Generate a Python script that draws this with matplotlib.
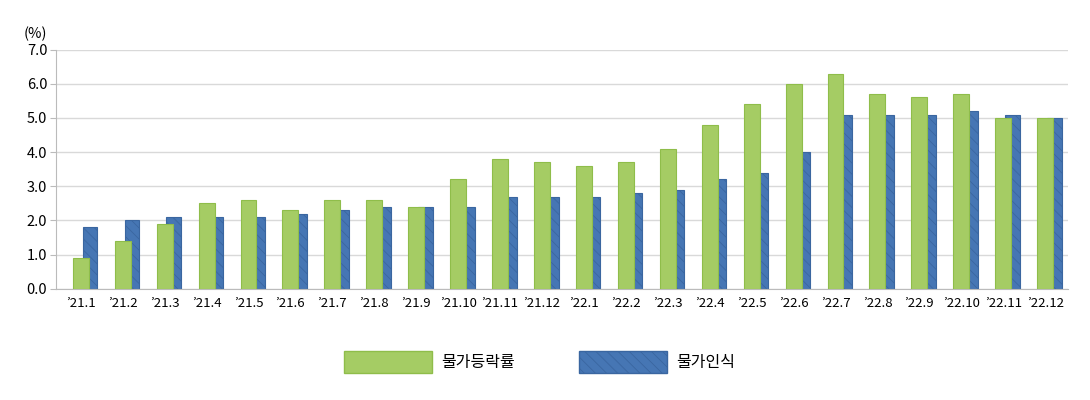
import matplotlib
matplotlib.use("Agg")
import matplotlib.pyplot as plt
import numpy as np
from matplotlib.patches import Patch

plt.rcParams['font.family'] = ['Noto Sans CJK KR']
plt.rcParams['hatch.color'] = '#2f5a8f'
plt.rcParams['hatch.linewidth'] = 0.6

labels = ["’21.1","’21.2","’21.3","’21.4","’21.5","’21.6","’21.7","’21.8","’21.9","’21.10","’21.11","’21.12",
          "’22.1","’22.2","’22.3","’22.4","’22.5","’22.6","’22.7","’22.8","’22.9","’22.10","’22.11","’22.12"]
inflation = [0.9,1.4,1.9,2.5,2.6,2.3,2.6,2.6,2.4,3.2,3.8,3.7,3.6,3.7,4.1,4.8,5.4,6.0,6.3,5.7,5.6,5.7,5.0,5.0]
perceived = [1.8,2.0,2.1,2.1,2.1,2.2,2.3,2.4,2.4,2.4,2.7,2.7,2.7,2.8,2.9,3.2,3.4,4.0,5.1,5.1,5.1,5.2,5.1,5.0]

fig = plt.figure(figsize=(10.9,4.0), dpi=100)
ax = fig.add_axes([0.051, 0.278, 0.929, 0.598])
x = np.arange(len(labels))
gw, bw = 0.38, 0.35
ax.bar(x, inflation, gw, color='#a5cc64', edgecolor='#8fbd4a', linewidth=0.8, zorder=3)
ax.bar(x + 0.22, perceived, bw, color='#4676b4', edgecolor='#3a66a0', linewidth=0.8, hatch='\\\\\\', zorder=2)
ax.set_xlim(-0.6, len(labels)-0.45)
ax.set_ylim(0, 7)
ax.set_yticks(np.arange(0, 7.01, 1))
ax.set_yticklabels([f"{v:.1f}" for v in np.arange(0, 7.01, 1)], fontsize=10.5)
ax.set_xticks(x)
ax.set_xticklabels(labels, fontsize=9.5)
ax.tick_params(axis='x', length=0, pad=6)
ax.tick_params(axis='y', length=4, color='#bbbbbb', pad=2)
ax.grid(axis='y', color='#d9d9d9', linewidth=1, zorder=0)
for s in ['top','right']:
    ax.spines[s].set_visible(False)
ax.spines['left'].set_color('#bbbbbb')
ax.spines['bottom'].set_color('#bbbbbb')
fig.text(0.022, 0.905, "(%)", fontsize=10.5)
handles = [Patch(facecolor='#a5cc64', edgecolor='#8fbd4a', label='물가등락률'),
           Patch(facecolor='#4676b4', edgecolor='#3a66a0', hatch='\\\\\\', label='물가인식')]
fig.legend(handles=handles, loc='center', bbox_to_anchor=(0.495, 0.095), ncol=2, frameon=False,
           fontsize=11.5, handlelength=5.5, handleheight=1.7, columnspacing=4, handletextpad=0.6)
fig.savefig("out.png", dpi=100, facecolor='white')
